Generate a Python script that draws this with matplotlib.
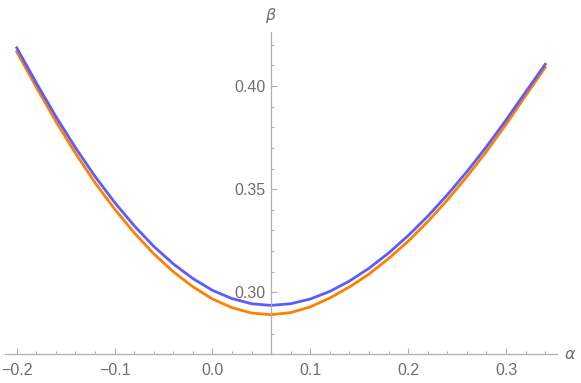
import numpy as np
import matplotlib.pyplot as plt
from matplotlib.ticker import MultipleLocator, FuncFormatter

# values
alpha = [-0.20, -0.18, -0.16, -0.14, -0.12, -0.10, -0.08, -0.06, -0.04, -0.02,
         0.00, 0.02, 0.04, 0.0595, 0.08, 0.10, 0.12, 0.14, 0.16, 0.18,
         0.20, 0.22, 0.24, 0.26, 0.28, 0.30, 0.32, 0.34]
beta_blue = [0.4185, 0.4015, 0.3852, 0.3701, 0.3562, 0.3436, 0.3323, 0.3223, 0.3138, 0.3067,
             0.3010, 0.2970, 0.2945, 0.2937, 0.2945, 0.2968, 0.3005, 0.3055, 0.3117, 0.3191,
             0.3275, 0.3369, 0.3473, 0.3585, 0.3706, 0.3835, 0.3971, 0.4105]
beta_orange = [0.4166, 0.3994, 0.3828, 0.3674, 0.3532, 0.3404, 0.3289, 0.3187, 0.3100, 0.3027,
               0.2968, 0.2926, 0.2900, 0.2892, 0.2902, 0.2930, 0.2973, 0.3026, 0.3089, 0.3164,
               0.3248, 0.3343, 0.3448, 0.3561, 0.3683, 0.3814, 0.3953, 0.4090]
x_cross = 0.0595

plt.rcParams['font.family'] = ['Liberation Sans', 'DejaVu Sans']
grey = '#6e6e6e'
axis_grey = '#b0b0b0'

fig = plt.figure(figsize=(5.81, 3.83), dpi=100)
ax = fig.add_axes([0.0086, 0.0749, 0.950, 0.8423])

ax.plot(alpha, beta_orange, color='#ff8000', lw=2.0, solid_joinstyle='round')
ax.plot(alpha, beta_blue, color='#5b5bff', lw=2.0, solid_joinstyle='round')

ax.set_xlim(-0.212, 0.352)
ax.set_ylim(0.27, 0.4263)

for s in ['top', 'right']:
    ax.spines[s].set_visible(False)
ax.spines['left'].set_position(('data', x_cross))
for s in ['left', 'bottom']:
    ax.spines[s].set_color(axis_grey)
    ax.spines[s].set_linewidth(0.9)

ax.xaxis.set_major_locator(MultipleLocator(0.1))
ax.xaxis.set_minor_locator(MultipleLocator(0.02))
ax.yaxis.set_major_locator(MultipleLocator(0.05))
ax.yaxis.set_minor_locator(MultipleLocator(0.01))
ax.xaxis.set_major_formatter(FuncFormatter(lambda v, p: ('%.1f' % v).replace('-', '\u2212')))
ax.yaxis.set_major_formatter(FuncFormatter(lambda v, p: '%.2f' % v))

ax.tick_params(which='both', direction='in', color=axis_grey, width=0.8,
               labelcolor=grey, labelsize=11.5)
ax.tick_params(which='major', length=4)
ax.tick_params(which='minor', length=2.5)
ax.tick_params(axis='x', pad=6)
ax.tick_params(axis='y', pad=4)

ax.annotate(r'$\alpha$', xy=(1.0, 0.0), xycoords='axes fraction',
            xytext=(5, 0), textcoords='offset points', ha='left', va='center',
            color=grey, fontsize=11.5)
ax.annotate(r'$\beta$', xy=(x_cross, 0.4263), xycoords='data',
            xytext=(0, 5), textcoords='offset points', ha='center', va='bottom',
            color=grey, fontsize=11.5)

fig.savefig('out.png', dpi=100)
